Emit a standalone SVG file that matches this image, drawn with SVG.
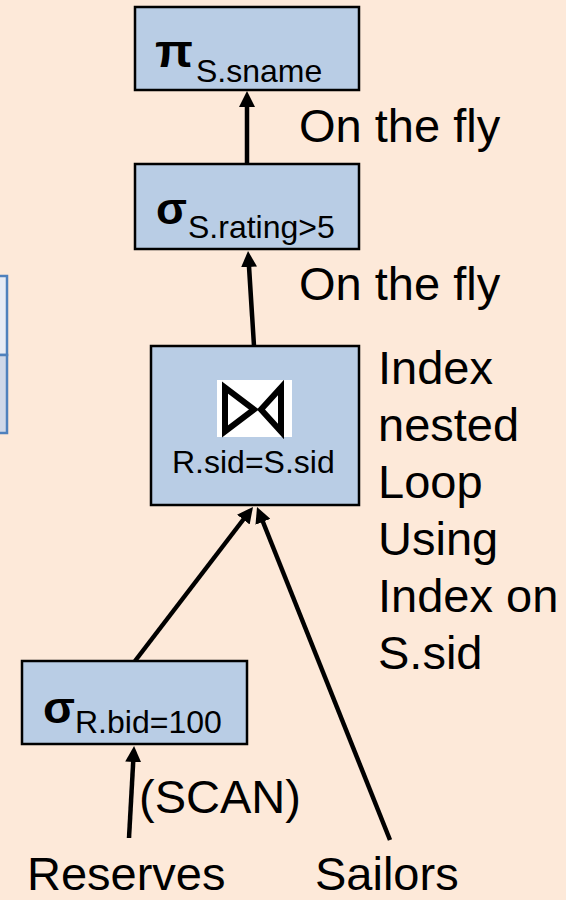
<svg xmlns="http://www.w3.org/2000/svg" width="566" height="900" viewBox="0 0 566 900">
<defs>
<style>
.box{fill:#b9cde5;stroke:#000;stroke-width:2.5}
.big{font-family:"Liberation Sans",Arial,sans-serif;font-size:47px;fill:#000}
.sub{font-family:"Liberation Sans",Arial,sans-serif;font-size:32px;fill:#000}
.greek{font-family:"Liberation Sans",Arial,sans-serif;font-weight:bold;fill:#000}
.edge{stroke:#000;stroke-width:4.5;fill:none;marker-end:url(#ah)}
</style>
<marker id="ah" markerUnits="userSpaceOnUse" markerWidth="16" markerHeight="16" refX="2" refY="8" orient="auto">
<path d="M0,0 L16,8 L0,16 z" fill="#000"/>
</marker>
</defs>
<rect width="566" height="900" fill="#fde9d9"/>
<g id="side-table">
<rect x="-10" y="276" width="17" height="79" fill="#e8ecf5" stroke="#4f81bd" stroke-width="2.5"/>
<rect x="-10" y="355" width="17" height="78" fill="#cfd8e9" stroke="#4f81bd" stroke-width="2.5"/>
</g>
<g id="connectors">
<line class="edge" x1="247" y1="164" x2="247" y2="105"/>
<line class="edge" x1="254" y1="346" x2="248.9" y2="265"/>
<line class="edge" x1="135" y1="661" x2="244.5" y2="518"/>
<line class="edge" x1="390" y1="840" x2="262.2" y2="520"/>
<line class="edge" x1="129" y1="838" x2="133.3" y2="760"/>
</g>
<g id="project">
<rect class="box" x="135" y="7" width="224" height="83"/>
<text class="greek" x="155" y="67" font-size="46" textLength="38" lengthAdjust="spacingAndGlyphs">π</text>
<text class="sub" x="196" y="82">S.sname</text>
</g>
<g id="select-rating">
<rect class="box" x="135" y="164" width="224" height="85"/>
<text class="greek" x="156" y="224" font-size="44" textLength="31" lengthAdjust="spacingAndGlyphs">σ</text>
<text class="sub" x="188" y="238">S.rating&gt;5</text>
</g>
<g id="join">
<rect class="box" x="151" y="346" width="208" height="159"/>
<rect x="217" y="380" width="75" height="57" fill="#fff"/>
<polygon points="225,387.5 225,431.5 254,409.5" fill="none" stroke="#000" stroke-width="6" stroke-linejoin="miter"/>
<polygon points="281,387.5 281,431.5 261,409.5" fill="none" stroke="#000" stroke-width="6" stroke-linejoin="miter"/>
<text class="sub" x="172" y="473">R.sid=S.sid</text>
</g>
<g id="select-bid">
<rect class="box" x="22" y="661" width="225" height="83"/>
<text class="greek" x="43" y="723" font-size="44" textLength="32" lengthAdjust="spacingAndGlyphs">σ</text>
<text class="sub" x="75" y="733">R.bid=100</text>
</g>
<g id="labels">
<text class="big" x="299" y="142">On the fly</text>
<text class="big" x="299" y="300">On the fly</text>
<text class="big" x="378" y="384">Index</text>
<text class="big" x="378" y="441">nested</text>
<text class="big" x="378" y="498">Loop</text>
<text class="big" x="378" y="555">Using</text>
<text class="big" x="378" y="612">Index on</text>
<text class="big" x="378" y="669">S.sid</text>
<text class="big" x="139" y="813">(SCAN)</text>
<text class="big" x="27" y="890">Reserves</text>
<text class="big" x="315" y="890">Sailors</text>
</g>
</svg>
